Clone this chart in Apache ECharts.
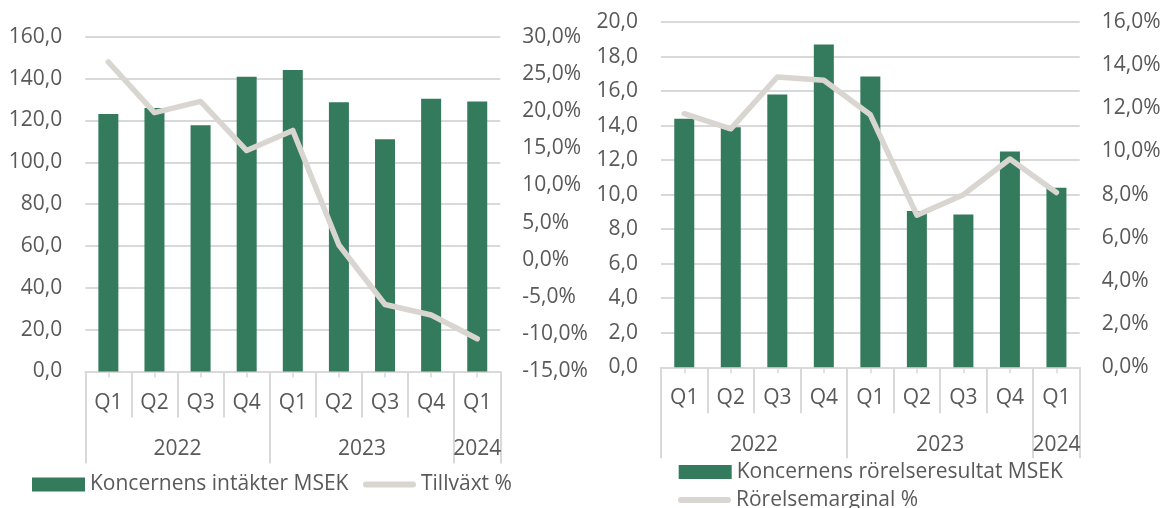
<!DOCTYPE html>
<html>
<head>
<meta charset="utf-8">
<script src="https://cdn.jsdelivr.net/npm/echarts@6/dist/echarts.min.js"></script>
<style>
  html, body { margin: 0; padding: 0; background: #fff; }
  #main { width: 1164px; height: 508px; }
</style>
</head>
<body>
<div id="main"></div>
<script>
// kvartal och år
var quarters = ['Q1', 'Q2', 'Q3', 'Q4', 'Q1', 'Q2', 'Q3', 'Q4', 'Q1'];
var years = ['2022', '2023', '2024'];
var yearSpans = [4, 4, 1];

// vänster diagram
var revenue = [123.1, 125.9, 117.7, 140.9, 144.1, 128.7, 111.0, 130.4, 129.0];
var growth = [26.6, 19.8, 21.3, 14.7, 17.4, 2.0, -6.0, -7.4, -10.6];

// höger diagram
var ebit = [14.4, 13.9, 15.8, 18.7, 16.85, 9.05, 8.85, 12.5, 10.4];
var margin = [11.75, 11.05, 13.45, 13.3, 11.7, 7.05, 8.0, 9.65, 8.1];

var green = '#337b5c';
var grey = '#d9d5d1';
var textColor = '#595959';
var gridColor = '#d9d9d9';
var font = 'Open Sans';
var fs = 21;
var lineIcon = 'path://M3,0 L50,0 A3,3 0 0 1 50,6 L3,6 A3,3 0 0 1 3,0 Z';

// gränser och mittpunkter för årsnivån
var yearBounds = [0];
var yearCenters = [];
yearSpans.forEach(function (s, i) {
  var start = yearBounds[i];
  yearBounds.push(start + s);
  yearCenters.push(start + s / 2);
});
var quarterCenters = quarters.map(function (q, i) { return i + 0.5; });

function fmt(v) {
  return v.toFixed(1).replace('.', ',');
}

function quarterAxis(gridIndex, labelMargin) {
  return {
    type: 'category',
    gridIndex: gridIndex,
    data: quarters,
    axisLine: { onZero: false, lineStyle: { color: gridColor, width: 2 } },
    axisTick: { show: true, interval: 0, length: 46, lineStyle: { color: gridColor, width: 2 } },
    axisLabel: { color: textColor, fontSize: fs, fontFamily: font, margin: labelMargin, interval: 0 }
  };
}

function yearAxis(gridIndex, tickLen) {
  return {
    type: 'value',
    gridIndex: gridIndex,
    position: 'bottom',
    min: 0,
    max: quarters.length,
    axisLine: { show: false, onZero: false },
    splitLine: { show: false },
    axisTick: { show: true, customValues: yearBounds, length: tickLen, lineStyle: { color: gridColor, width: 2 } },
    axisLabel: {
      show: true,
      customValues: yearCenters,
      color: textColor, fontSize: fs, fontFamily: font, margin: 67,
      formatter: function (v) {
        var i = yearCenters.indexOf(v);
        return i >= 0 ? years[i] : '';
      }
    }
  };
}

// små streck mitt under staplarna
function centerTicks(gridIndex) {
  return {
    type: 'value',
    gridIndex: gridIndex,
    position: 'bottom',
    min: 0,
    max: quarters.length,
    axisLine: { show: false, onZero: false },
    splitLine: { show: false },
    axisTick: { show: true, customValues: quarterCenters, length: 6, lineStyle: { color: gridColor, width: 1.5 } },
    axisLabel: { show: false }
  };
}

function valueAxis(gridIndex, min, max, interval, pct, showSplit, pos) {
  return {
    type: 'value',
    gridIndex: gridIndex,
    position: pos,
    min: min,
    max: max,
    interval: interval,
    axisLine: { show: false },
    axisTick: { show: false },
    splitLine: { show: showSplit, lineStyle: { color: gridColor, width: 2 } },
    axisLabel: {
      color: textColor, fontSize: fs, fontFamily: font, margin: pos === 'left' ? 23 : 22,
      formatter: function (v) { return fmt(v) + (pct ? '%' : ''); }
    }
  };
}

function legend(left, top, name, icon) {
  return {
    left: left, top: top, padding: 0,
    itemWidth: 53, itemHeight: 14,
    textStyle: { color: textColor, fontSize: fs, fontFamily: font },
    data: [{ name: name, icon: icon }]
  };
}

var chart = echarts.init(document.getElementById('main'), null, { renderer: 'canvas' });

var option = {
  backgroundColor: '#fff',
  animation: false,
  textStyle: { fontFamily: font },
  grid: [
    { left: 85.3, top: 36.7, width: 415, height: 334.8 },
    { left: 661, top: 22, width: 418.7, height: 345.3 }
  ],
  xAxis: [
    quarterAxis(0, 21), yearAxis(0, 92), centerTicks(0),
    quarterAxis(1, 20), yearAxis(1, 91), centerTicks(1)
  ],
  yAxis: [
    valueAxis(0, 0, 160, 20, false, true, 'left'),
    valueAxis(0, -15, 30, 5, true, false, 'right'),
    valueAxis(1, 0, 20, 2, false, true, 'left'),
    valueAxis(1, 0, 16, 2, true, false, 'right')
  ],
  legend: [
    legend(32, 474, 'Koncernens intäkter MSEK', 'rect'),
    legend(363, 474, 'Tillväxt %', lineIcon),
    legend(678.7, 461.5, 'Koncernens rörelseresultat MSEK', 'rect'),
    legend(678, 489.5, 'Rörelsemarginal %', lineIcon)
  ],
  series: [
    {
      name: 'Koncernens intäkter MSEK', type: 'bar',
      xAxisIndex: 0, yAxisIndex: 0,
      barWidth: 20, data: revenue,
      itemStyle: { color: green }
    },
    {
      name: 'Tillväxt %', type: 'line',
      xAxisIndex: 0, yAxisIndex: 1,
      data: growth, symbol: 'none',
      lineStyle: { color: grey, width: 5.5, cap: 'round', join: 'round' },
      itemStyle: { color: grey }
    },
    {
      name: 'Koncernens rörelseresultat MSEK', type: 'bar',
      xAxisIndex: 3, yAxisIndex: 2,
      barWidth: 20, data: ebit,
      itemStyle: { color: green }
    },
    {
      name: 'Rörelsemarginal %', type: 'line',
      xAxisIndex: 3, yAxisIndex: 3,
      data: margin, symbol: 'none',
      lineStyle: { color: grey, width: 5.5, cap: 'round', join: 'round' },
      itemStyle: { color: grey }
    }
  ]
};

chart.setOption(option);
</script>
</body>
</html>
